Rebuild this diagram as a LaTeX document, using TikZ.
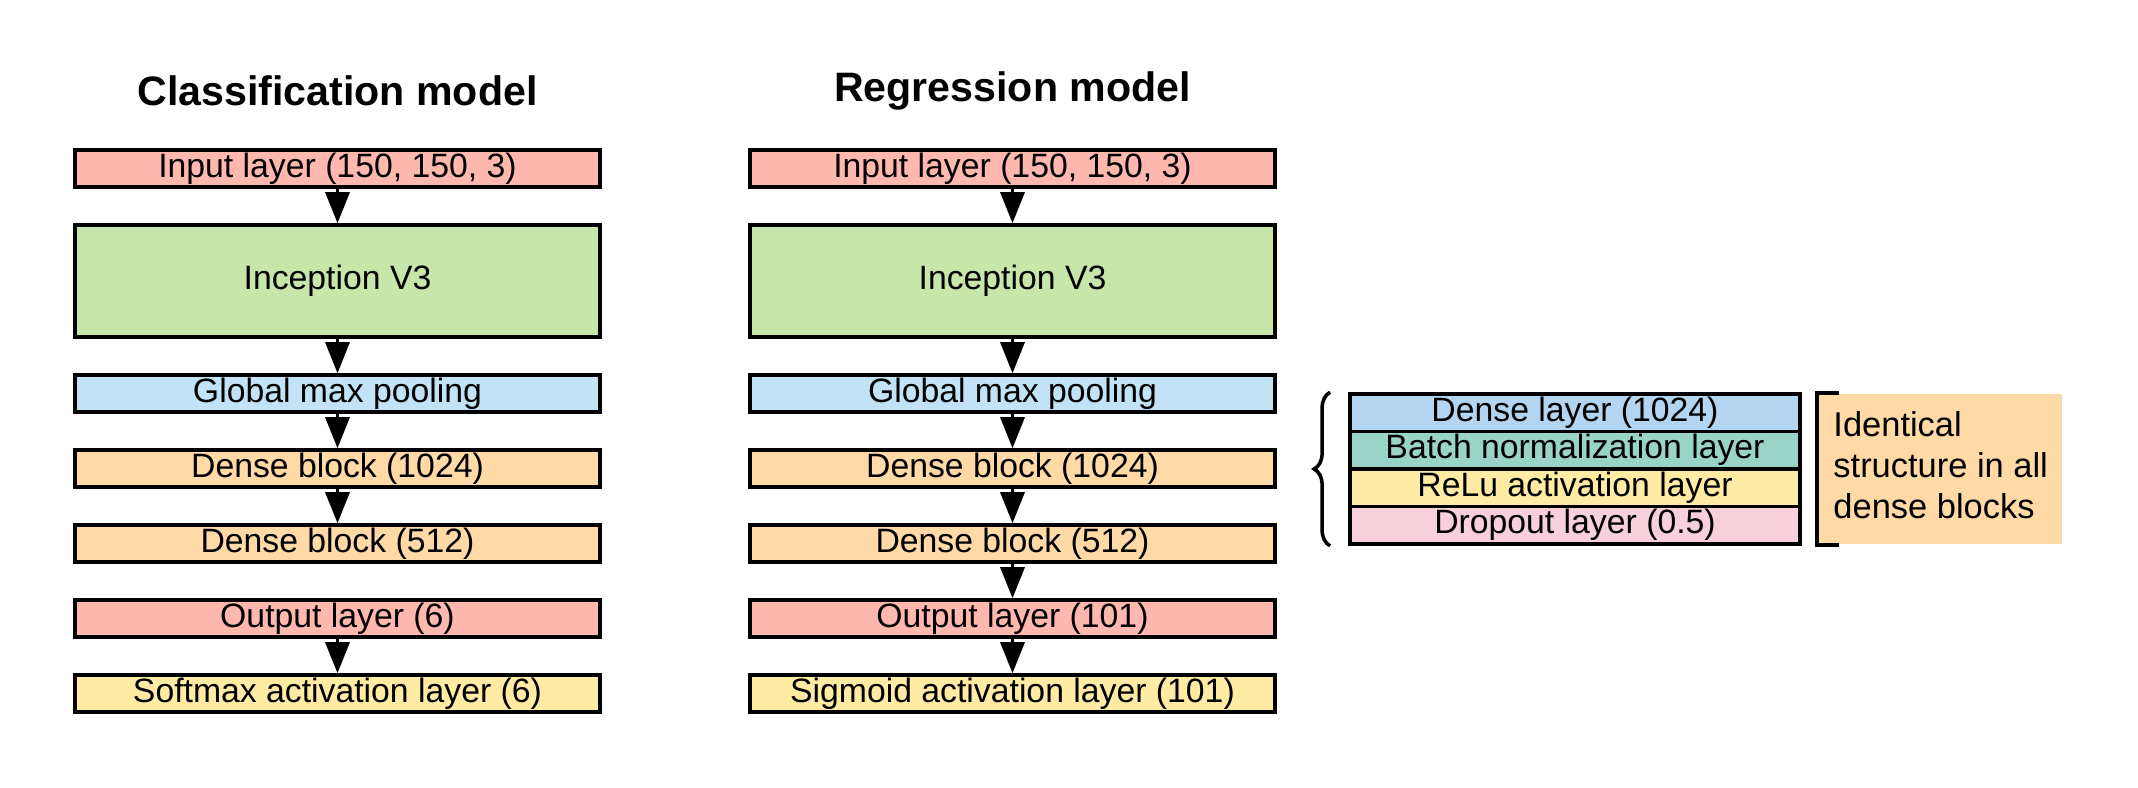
\documentclass[tikz,border=0pt]{standalone}
\usepackage{fontspec}
\setmainfont{Liberation Sans}
\usepackage{tikz}
\usetikzlibrary{arrows.meta,positioning,calc,decorations.pathreplacing}
\definecolor{InRed}{HTML}{FFB8AE}
\definecolor{IncGreen}{HTML}{C7E6A9}
\definecolor{PoolBlue}{HTML}{C2E3F5}
\definecolor{DenseOrange}{HTML}{FFD9A6}
\definecolor{ActYellow}{HTML}{FFEBA3}
\definecolor{SubBlue}{HTML}{B3D5EF}
\definecolor{SubTeal}{HTML}{9AD4C6}
\definecolor{SubPink}{HTML}{F8D0DC}
\tikzset{
  layerbox/.style={draw,line width=1pt,minimum width=5.25cm,minimum height=0.37cm,inner sep=0pt},
  subbox/.style={draw,line width=1pt,minimum width=4.5cm,minimum height=0.375cm,inner sep=0pt},
  flow/.style={-{Triangle[width=0.24cm,length=0.31cm]},line width=0.9pt},
  title/.style={font=\fontsize{11.7}{14}\selectfont\bfseries}
}
\begin{document}
\begin{tikzpicture}[x=0.01cm,y=-0.01cm,font=\fontsize{9.6}{11.5}\selectfont]
  \useasboundingbox (0,0) rectangle (2138,788);
  % classification model
  \node[title] (cTitle) at (337.5,91) {Classification model};
  \node[layerbox,fill=InRed] (cIn) at (337.5,168.5) {Input layer (150, 150, 3)};
  \node[layerbox,fill=IncGreen,minimum height=1.12cm] (cInc) at (337.5,281) {Inception V3};
  \node[layerbox,fill=PoolBlue] (cPool) at (337.5,393.5) {Global max pooling};
  \node[layerbox,fill=DenseOrange] (cD1) at (337.5,468.5) {Dense block (1024)};
  \node[layerbox,fill=DenseOrange] (cD2) at (337.5,543.5) {Dense block (512)};
  \node[layerbox,fill=InRed] (cOut) at (337.5,618.5) {Output layer (6)};
  \node[layerbox,fill=ActYellow] (cAct) at (337.5,693.5) {Softmax activation layer (6)};
  \draw[flow] (cIn) -- (cInc);
  \draw[flow] (cInc) -- (cPool);
  \draw[flow] (cPool) -- (cD1);
  \draw[flow] (cD1) -- (cD2);
  \draw[flow] (cOut) -- (cAct);
  % regression model
  \node[title] (rTitle) at (1012.5,91) {Regression model};
  \node[layerbox,fill=InRed] (rIn) at (1012.5,168.5) {Input layer (150, 150, 3)};
  \node[layerbox,fill=IncGreen,minimum height=1.12cm] (rInc) at (1012.5,281) {Inception V3};
  \node[layerbox,fill=PoolBlue] (rPool) at (1012.5,393.5) {Global max pooling};
  \node[layerbox,fill=DenseOrange] (rD1) at (1012.5,468.5) {Dense block (1024)};
  \node[layerbox,fill=DenseOrange] (rD2) at (1012.5,543.5) {Dense block (512)};
  \node[layerbox,fill=InRed] (rOut) at (1012.5,618.5) {Output layer (101)};
  \node[layerbox,fill=ActYellow] (rAct) at (1012.5,693.5) {Sigmoid activation layer (101)};
  \draw[flow] (rIn) -- (rInc);
  \draw[flow] (rInc) -- (rPool);
  \draw[flow] (rPool) -- (rD1);
  \draw[flow] (rD1) -- (rD2);
  \draw[flow] (rD2) -- (rOut);
  \draw[flow] (rOut) -- (rAct);
  % dense block structure
  \node[subbox,fill=SubBlue] (sDense) at (1575,412.75) {Dense layer (1024)};
  \node[subbox,fill=SubTeal] (sBatch) at (1575,450.25) {Batch normalization layer};
  \node[subbox,fill=ActYellow] (sRelu) at (1575,487.75) {ReLu activation layer};
  \node[subbox,fill=SubPink] (sDrop) at (1575,525.25) {Dropout layer (0.5)};
  \draw[line width=1pt,decorate,decoration={brace,amplitude=0.16cm}]
    ($(sDrop.south west)+(-18,0)$) -- ($(sDense.north west)+(-18,0)$);
  \node[fill=DenseOrange,minimum width=2.44cm,minimum height=1.5cm,inner sep=0pt] (note) at (1940,469) {};
  \node[anchor=west,align=left,font=\fontsize{9.8}{11.6}\selectfont] (noteText) at (1821,465) {Identical\\structure in all\\dense blocks};
  \draw[line width=1.1pt] ($(note.north west)+(22,0)$) -- (note.north west) -- (note.south west) -- ++(22,0);
\end{tikzpicture}
\end{document}
